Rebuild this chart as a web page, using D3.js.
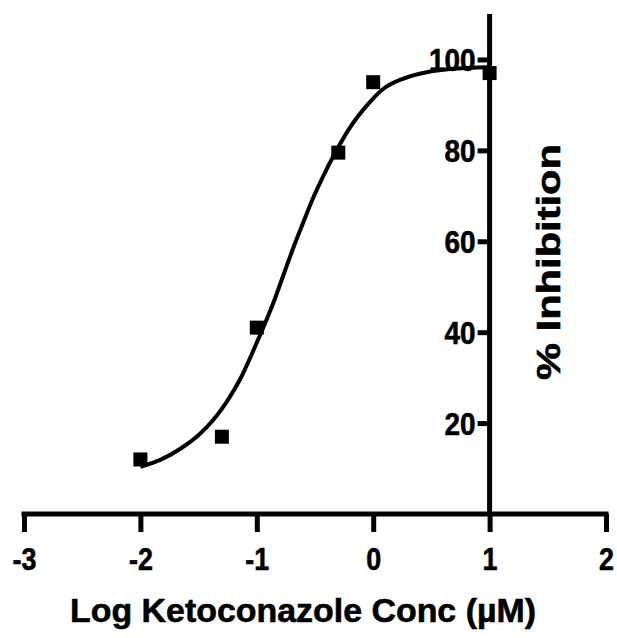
<!DOCTYPE html>
<html>
<head>
<meta charset="utf-8">
<script src="https://cdn.jsdelivr.net/npm/d3@7"></script>
<style>
  html, body { margin: 0; padding: 0; background: #fff; }
  text { font-family: "Liberation Sans", Arial, sans-serif; font-weight: bold; fill: #000; stroke: #000; stroke-width: 0.6px; }
</style>
</head>
<body>
<div class="chart"></div>
<script>
// measured points (log conc vs % inhibition)
const logConc = [-2, -1.3, -1, -0.3, 0, 1];
const inhibition = [12, 17, 41, 79.5, 95, 97];

// fitted curve
const fitX = [-2.0, -1.83, -1.66, -1.49, -1.38, -1.26, -1.14, -0.99, -0.86, -0.775, -0.69, -0.60, -0.52, -0.43, -0.33, -0.20, -0.05, 0.08, 0.26, 0.46, 0.66, 1.0];
const fitY = [10.4, 11.9, 14.3, 17.6, 20.5, 24.6, 29.8, 38.3, 46.3, 52.3, 58.3, 64.2, 69.3, 74.3, 79.3, 85, 90, 93.4, 95.8, 97.2, 97.9, 98.3];

const xTicks = [-3, -2, -1, 0, 1, 2];
const yTicks = [20, 40, 60, 80, 100];

const width = 617, height = 638;

const svg = d3.select(".chart")
    .append("svg")
    .attr("width", width)
    .attr("height", height);

const x = d3.scaleLinear().domain([-3, 2]).range([24, 606]);
const y = d3.scaleLinear().domain([0, 110]).range([514, 14]);

// X axis
const xAxis = svg.append("g")
    .attr("transform", `translate(0,${y(0)})`)
    .call(d3.axisBottom(x).tickValues(xTicks).tickSize(18).tickSizeOuter(0).tickPadding(15).tickFormat(d => String(d)));
xAxis.select(".domain").attr("stroke-width", 5).attr("d", `M${x(-3) - 2.5},0H${x(2) + 2.5}`);
xAxis.selectAll(".tick line").attr("stroke-width", 5);
xAxis.selectAll(".tick text")
    .attr("font-size", 32)
    .attr("font-family", null)
    .attr("transform", "scale(0.84,1)");

// Y axis sits at x = 1
const yAxis = svg.append("g")
    .attr("transform", `translate(${x(1)},0)`)
    .call(d3.axisLeft(y).tickValues(yTicks).tickSize(12).tickSizeOuter(0).tickPadding(2));
yAxis.select(".domain").attr("stroke-width", 5).attr("d", `M0,${y(110)}V${y(0)}`);
yAxis.selectAll(".tick line").attr("stroke-width", 5);
yAxis.selectAll(".tick text")
    .attr("font-size", 31)
    .attr("font-family", null)
    .attr("dy", "0.36em")
    .attr("x", -14 / 0.9)
    .attr("transform", "scale(0.9,1)");

// fitted curve
const fit = fitX.map((d, i) => ({ x: d, y: fitY[i] }));
svg.append("path")
    .datum(fit)
    .attr("fill", "none")
    .attr("stroke", "#000")
    .attr("stroke-width", 4)
    .attr("d", d3.line().x(d => x(d.x)).y(d => y(d.y)).curve(d3.curveMonotoneX));

// data squares
const pts = logConc.map((d, i) => ({ x: d, y: inhibition[i] }));
const sq = 14;
svg.selectAll("rect.pt")
    .data(pts)
    .join("rect")
    .attr("class", "pt")
    .attr("x", d => x(d.x) - sq / 2)
    .attr("y", d => y(d.y) - sq / 2)
    .attr("width", sq)
    .attr("height", sq)
    .attr("fill", "#000");

// axis titles
svg.append("text")
    .attr("x", 303)
    .attr("y", 622)
    .attr("text-anchor", "middle")
    .attr("font-size", 34)
    .attr("textLength", 466)
    .attr("lengthAdjust", "spacingAndGlyphs")
    .text("Log Ketoconazole Conc (µM)");

svg.append("text")
    .attr("transform", "translate(560,262) rotate(-90)")
    .attr("text-anchor", "middle")
    .attr("font-size", 34)
    .attr("textLength", 236)
    .attr("lengthAdjust", "spacingAndGlyphs")
    .text("% Inhibition");
</script>
</body>
</html>
